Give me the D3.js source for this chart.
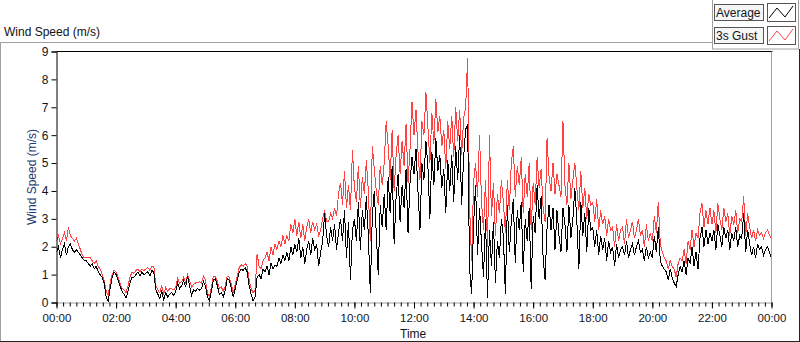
<!DOCTYPE html>
<html>
<head>
<meta charset="utf-8">
<script src="https://cdn.jsdelivr.net/npm/d3@7"></script>
<style>
  body { margin: 0; background: #fff; }
  svg { display: block; font-family: "Liberation Sans", Arial, sans-serif; }
</style>
</head>
<body>
<svg id="chart" width="800" height="342"></svg>
<script>
// one reading every 4 minutes, 00:00 -> 24:00 (15 per row = one hour)
var stepMinutes = 4;

var avgSpeed = [
  1.8, 2.0, 1.6, 1.9, 2.1, 1.7, 2.0, 2.1, 1.9, 1.8, 1.9, 1.8, 1.7, 1.6, 1.5,
  1.5, 1.4, 1.3, 1.4, 1.2, 1.3, 1.1, 1.0, 0.9, 0.7, 0.2, 0.05, 0.5, 0.9, 1.1,
  1.0, 0.8, 0.6, 0.4, 0.3, 0.15, 0.4, 0.7, 0.9, 0.9, 1.0, 1.1, 0.95, 1.1, 1.0,
  1.05, 1.1, 0.95, 1.15, 1.1, 0.45, 0.3, 0.15, 0.4, 0.1, 0.35, 0.2, 0.3, 0.35, 0.25,
  0.4, 0.7, 0.5, 0.6, 0.8, 0.55, 0.95, 0.6, 0.25, 0.45, 0.4, 0.5, 0.45, 0.5, 0.75,
  0.6, 0.2, 0.05, 0.4, 0.8, 0.85, 0.6, 0.3, 0.35, 0.2, 0.45, 0.85, 0.8, 0.5, 0.2,
  0.5, 0.8, 1.1, 1.2, 1.15, 1.25, 1.1, 0.6, 0.3, 0.05, 0.2, 0.9, 1.0, 0.85, 1.2,
  1.1, 1.3, 1.0, 1.4, 1.2, 1.35, 1.3, 1.6, 1.4, 1.7, 1.5, 1.8, 1.5, 2.0, 1.7,
  2.1, 1.8, 2.3, 1.6, 2.0, 1.4, 1.9, 2.2, 1.7, 2.3, 1.9, 2.1, 1.3, 1.8, 2.2,
  3.2, 2.4, 2.0, 2.7, 2.2, 2.8, 1.9, 2.5, 3.0, 2.2, 3.3, 1.6, 2.9, 0.8, 2.6,
  3.0, 2.2, 3.6, 1.9, 3.3, 2.6, 3.8, 2.4, 0.35, 3.1, 4.0, 2.5, 1.0, 3.5, 2.7,
  3.9, 2.6, 4.5, 3.2, 4.9, 2.1, 3.8, 4.6, 2.9, 4.2, 3.4, 4.8, 2.5, 4.3, 5.2,
  4.6, 5.5, 4.0, 2.6, 5.0, 4.4, 5.8, 4.9, 3.0, 5.4, 4.2, 5.9, 4.7, 5.3, 4.1,
  4.8, 3.2, 5.1, 4.0, 5.3, 3.6, 5.6, 4.4, 6.0, 3.5, 5.2, 6.2, 6.4, 1.2, 0.3,
  2.8, 4.2, 1.7, 3.4, 2.1, 0.9, 3.0, 0.15, 2.6, 1.3, 2.9, 0.7, 2.2, 1.6, 3.0,
  2.4, 0.3, 3.5, 1.8, 2.9, 3.7, 1.4, 3.3, 2.6, 3.6, 1.1, 3.0, 2.2, 3.4, 0.5,
  3.1, 2.5, 4.2, 3.0, 3.8, 1.6, 0.8, 2.7, 3.5, 2.6, 3.4, 1.9, 3.3, 2.4, 1.8,
  3.4, 2.8, 1.8, 3.5, 2.3, 3.0, 4.1, 2.9, 1.2, 3.6, 2.4, 3.2, 1.8, 3.4, 2.6,
  2.7, 2.0, 2.6, 1.7, 2.4, 1.9, 2.3, 1.5, 2.2, 1.8, 2.0, 1.3, 2.1, 1.6, 1.9,
  2.0, 1.7, 2.2, 1.6, 1.9, 2.1, 1.7, 2.0, 2.2, 1.8, 1.9, 1.5, 2.0, 1.6, 1.8,
  1.6, 2.4, 1.8, 2.7, 1.5, 1.3, 1.2, 1.1, 0.8, 1.2, 0.9, 0.7, 0.57, 1.0, 1.3,
  1.1, 1.5, 1.0, 1.6, 1.4, 2.0, 1.3, 1.8, 1.2, 2.3, 2.7, 2.0, 2.6, 2.1, 2.5,
  2.2, 2.6, 1.9, 2.8, 2.4, 2.0, 2.7, 2.3, 2.6, 1.9, 2.5, 2.2, 2.7, 2.0, 2.4,
  2.3, 3.2, 1.8, 2.6, 2.1, 1.7, 2.0, 1.6, 2.1, 1.9, 2.0, 1.7, 1.9, 2.0, 1.8,
  1.6
];

var gustSpeed = [
  2.2, 2.4, 2.1, 2.3, 2.5, 2.2, 2.7, 2.4, 2.3, 2.2, 2.3, 2.1, 1.9, 1.7, 1.6,
  1.6, 1.6, 1.6, 1.5, 1.4, 1.5, 1.3, 1.2, 1.0, 0.8, 0.4, 0.25, 0.7, 1.0, 1.15,
  1.1, 0.9, 0.7, 0.5, 0.45, 0.35, 0.6, 0.9, 1.1, 1.05, 1.15, 1.2, 1.1, 1.2, 1.15,
  1.2, 1.25, 1.15, 1.3, 1.3, 0.6, 0.45, 0.35, 0.6, 0.3, 0.55, 0.4, 0.5, 0.5, 0.45,
  0.55, 0.85, 0.7, 0.75, 0.9, 0.7, 1.0, 0.8, 0.55, 0.65, 0.7, 0.7, 0.75, 0.7, 0.95,
  0.8, 0.35, 0.2, 0.55, 0.95, 0.95, 0.75, 0.5, 0.55, 0.4, 0.6, 0.95, 0.9, 0.65, 0.35,
  0.65, 0.95, 1.25, 1.35, 1.3, 1.4, 1.3, 0.8, 0.5, 0.35, 0.45, 1.75, 1.3, 1.2, 1.5,
  1.6, 1.8, 1.5, 2.0, 1.7, 2.1, 1.9, 2.2, 2.0, 2.4, 2.1, 2.4, 2.2, 2.8, 2.5,
  3.0, 2.4, 2.9, 2.3, 2.8, 2.2, 2.7, 3.0, 2.5, 2.9, 2.6, 2.8, 2.4, 2.6, 3.0,
  3.3, 2.9, 2.9, 3.2, 3.0, 3.4, 3.1, 3.9, 4.3, 3.5, 4.7, 3.4, 4.2, 3.3, 5.45,
  4.1, 3.6, 4.9, 3.4, 4.5, 3.9, 5.1, 4.0, 2.2, 5.6, 4.8, 4.0, 3.5, 4.9, 4.2,
  5.0, 6.5, 5.6, 4.4, 6.2, 4.0, 5.3, 6.0, 4.6, 5.8, 4.9, 6.4, 4.3, 5.5, 7.2,
  6.0, 6.9, 5.4, 4.4, 6.5, 6.0, 7.55, 6.3, 5.0, 6.8, 5.7, 7.3, 6.1, 6.7, 5.6,
  6.2, 4.8, 6.5, 5.5, 6.7, 5.2, 7.0, 5.8, 6.9, 5.3, 6.6, 7.0, 8.75, 3.4, 1.5,
  4.3, 5.0, 3.8, 6.0, 3.6, 2.6, 4.4, 2.0, 6.0, 3.1, 4.3, 2.4, 3.9, 3.2, 4.4,
  3.6, 2.5, 4.4, 3.3, 5.0, 5.6, 3.8, 4.9, 4.2, 5.2, 3.2, 4.6, 3.8, 5.0, 2.6,
  4.3, 3.5, 5.2, 4.1, 4.8, 3.4, 2.9, 5.9, 4.5, 4.0, 5.0, 3.9, 4.6, 4.2, 3.8,
  6.5, 4.2, 3.5, 5.0, 3.7, 4.4, 5.0, 4.1, 3.3, 4.7, 3.4, 4.1, 3.0, 3.9, 3.5,
  3.6, 2.9, 3.7, 2.6, 3.3, 2.8, 3.1, 2.4, 3.0, 2.6, 2.7, 2.0, 2.8, 2.2, 2.6,
  2.7, 2.1, 3.0, 2.3, 2.6, 2.9, 2.3, 2.6, 3.0, 2.4, 2.6, 2.0, 2.8, 2.2, 2.5,
  2.2, 3.1, 2.5, 3.6, 2.1, 1.8, 1.6, 1.5, 1.2, 1.5, 1.3, 1.2, 0.9, 1.4, 1.6,
  1.5, 1.9, 1.4, 2.2, 1.9, 2.6, 2.0, 2.5, 2.3, 3.2, 3.55, 2.7, 3.3, 2.8, 3.4,
  2.8, 3.3, 2.5, 3.55, 3.0, 2.6, 3.4, 2.9, 3.2, 2.4, 3.1, 2.8, 3.3, 2.5, 3.0,
  2.9, 3.8, 2.4, 3.2, 2.7, 2.3, 2.6, 2.2, 2.6, 2.4, 2.5, 2.3, 2.5, 2.6, 2.4,
  2.3
];

var hourTicks = [0, 2, 4, 6, 8, 10, 12, 14, 16, 18, 20, 22, 24];
var hourLabels = ['00:00', '02:00', '04:00', '06:00', '08:00', '10:00', '12:00',
                  '14:00', '16:00', '18:00', '20:00', '22:00', '00:00'];
var speedTicks = [0, 1, 2, 3, 4, 5, 6, 7, 8, 9];
var seriesNames = ['Average', '3s Gust'];
var seriesColors = ['#000000', '#ff4242'];

// Layout
var plotLeft = 56.5, plotRight = 771.5, plotTop = 51.5, plotBottom = 302.5;
var textColor = '#111522';

var svg = d3.select('#chart');

var x = d3.scaleLinear().domain([0, 24]).range([plotLeft, plotRight]);
var y = d3.scaleLinear().domain([0, 9]).range([plotBottom, plotTop]);

// Outer panel frame
svg.append('line').attr('x1', 0).attr('x2', 712).attr('y1', 42.5).attr('y2', 42.5)
    .attr('stroke', '#a0a0a0');
svg.append('line').attr('x1', 0.5).attr('x2', 0.5).attr('y1', 42.5).attr('y2', 341)
    .attr('stroke', '#a0a0a0');
svg.append('line').attr('x1', 0).attr('x2', 800).attr('y1', 341.5).attr('y2', 341.5)
    .attr('stroke', '#222');
svg.append('line').attr('x1', 799.5).attr('x2', 799.5).attr('y1', 49).attr('y2', 342)
    .attr('stroke', '#222');

// Chart title
svg.append('text')
    .attr('x', 4).attr('y', 36)
    .attr('font-size', 12)
    .attr('fill', '#111')
    .text('Wind Speed (m/s)');

// Legend panel
svg.append('rect')
    .attr('x', 712.5).attr('y', -1).attr('width', 86).attr('height', 50)
    .attr('fill', '#fff').attr('stroke', '#a0a0a0');

var legend = svg.selectAll('g.legend')
    .data(seriesNames)
    .enter()
    .append('g')
        .attr('class', 'legend')
        .attr('transform', function (d, i) { return 'translate(0,' + (i * 23) + ')'; });

legend.append('rect')
    .attr('x', 714.5).attr('y', 4.5).attr('width', 49).attr('height', 16)
    .attr('fill', '#f6f6f6').attr('stroke', '#555');

legend.append('text')
    .attr('x', 716).attr('y', 17)
    .attr('font-size', 12)
    .attr('fill', textColor)
    .text(function (d) { return d; });

legend.append('rect')
    .attr('x', 767.5).attr('y', 3.5).attr('width', 28).attr('height', 18)
    .attr('fill', '#fff').attr('stroke', '#555');

legend.append('polyline')
    .attr('points', '769,18 777,8 785,17 793,6')
    .attr('fill', 'none')
    .attr('stroke', function (d, i) { return seriesColors[i]; });

// Plot area
svg.append('rect')
    .attr('x', plotLeft).attr('y', plotTop)
    .attr('width', plotRight - plotLeft).attr('height', plotBottom - plotTop)
    .attr('fill', '#fff');

svg.append('clipPath').attr('id', 'plotClip')
  .append('rect')
    .attr('x', plotLeft).attr('y', plotTop - 1)
    .attr('width', plotRight - plotLeft).attr('height', plotBottom - plotTop + 1);

var line = d3.line()
    .x(function (d, i) { return x(i * stepMinutes / 60); })
    .y(function (d) { return y(d); });

var plot = svg.append('g').attr('clip-path', 'url(#plotClip)');

// gust drawn first, average on top; crisp, un-smoothed strokes like the original
plot.append('path')
    .datum(gustSpeed)
    .attr('d', line)
    .attr('fill', 'none')
    .attr('stroke', seriesColors[1])
    .attr('stroke-width', 1)
    .attr('shape-rendering', 'crispEdges');

plot.append('path')
    .datum(avgSpeed)
    .attr('d', line)
    .attr('fill', 'none')
    .attr('stroke', seriesColors[0])
    .attr('stroke-width', 1)
    .attr('shape-rendering', 'crispEdges');

// Plot borders: top/left black, right/bottom grey
svg.append('line').attr('x1', plotLeft).attr('x2', plotRight + 1).attr('y1', plotTop).attr('y2', plotTop)
    .attr('stroke', '#000');
svg.append('line').attr('x1', plotRight).attr('x2', plotRight).attr('y1', plotTop).attr('y2', plotBottom)
    .attr('stroke', '#a0a0a0');

// X axis: minor ticks then major ticks with labels
var minorHours = d3.range(0, 24.001, 2 / 9);

var xMinor = svg.append('g')
    .attr('transform', 'translate(0,' + plotBottom + ')')
    .call(d3.axisBottom(x).tickValues(minorHours).tickSize(4).tickFormat(''));

var xMajor = svg.append('g')
    .attr('transform', 'translate(0,' + plotBottom + ')')
    .call(d3.axisBottom(x).tickValues(hourTicks).tickSize(6)
        .tickFormat(function (d, i) { return hourLabels[i]; }));

xMinor.select('.domain').attr('stroke', '#a0a0a0');
xMajor.select('.domain').remove();
svg.selectAll('.tick line').attr('stroke', '#000');
xMajor.selectAll('text')
    .attr('y', 11)
    .attr('font-family', '"Liberation Sans", Arial, sans-serif')
    .attr('font-size', 11.5)
    .attr('fill', textColor);

// Y axis
var yAxis = svg.append('g')
    .attr('transform', 'translate(' + plotLeft + ',0)')
    .call(d3.axisLeft(y).tickValues(speedTicks).tickSize(5).tickPadding(3));

yAxis.select('.domain').attr('stroke', '#000');
yAxis.selectAll('.tick line').attr('stroke', '#000');
yAxis.selectAll('text')
    .attr('font-family', '"Liberation Sans", Arial, sans-serif')
    .attr('font-size', 12)
    .attr('fill', textColor);

// Axis titles
svg.append('text')
    .attr('transform', 'translate(36,' + ((plotTop + plotBottom) / 2) + ') rotate(-90)')
    .attr('text-anchor', 'middle')
    .attr('font-size', 12)
    .attr('fill', '#1e3a6e')
    .text('Wind Speed (m/s)');

svg.append('text')
    .attr('x', 400).attr('y', 338)
    .attr('font-size', 12)
    .attr('fill', textColor)
    .text('Time');
</script>
</body>
</html>
